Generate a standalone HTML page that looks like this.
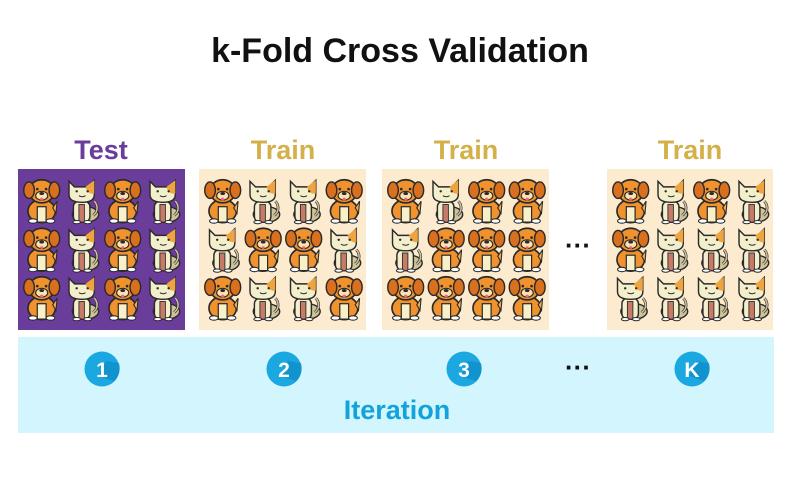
<!DOCTYPE html>
<html><head><meta charset="utf-8"><style>
body{margin:0;background:#fff;width:800px;height:490px;overflow:hidden;font-family:"Liberation Sans",Arial,sans-serif}
</style></head><body>
<svg width="800" height="490" viewBox="0 0 800 490" xmlns="http://www.w3.org/2000/svg">
<defs>
<g id="dog">
 <ellipse cx="17" cy="31" rx="12.5" ry="10.5" fill="#f0922e" stroke="#2a2a2a" stroke-width="1.5"/>
 <path d="M27 28 L31 22 L30 33 Z" fill="#f6b04a" stroke="#2a2a2a" stroke-width="1"/>
 <rect x="13" y="27" width="8" height="14" fill="#f7f0c8" stroke="#2a2a2a" stroke-width="1.1"/>
 <ellipse cx="17" cy="13" rx="11.5" ry="10.5" fill="#f0922e" stroke="#2a2a2a" stroke-width="1.5"/>
 <ellipse cx="5.5" cy="12" rx="4.8" ry="7.5" fill="#d9701e" stroke="#2a2a2a" stroke-width="1.3"/>
 <ellipse cx="28.5" cy="12" rx="4.8" ry="7.5" fill="#d9701e" stroke="#2a2a2a" stroke-width="1.3"/>
 <ellipse cx="17" cy="17" rx="5.5" ry="4" fill="#fde2b0" stroke="#2a2a2a" stroke-width="1"/>
 <ellipse cx="17" cy="15" rx="2.2" ry="1.4" fill="#2a2a2a"/>
 <circle cx="13" cy="11" r="1.2" fill="#2a2a2a"/><circle cx="21" cy="11" r="1.2" fill="#2a2a2a"/>
 <ellipse cx="17" cy="20" rx="1.5" ry="1.3" fill="#e66a8a"/>
 <ellipse cx="9" cy="40" rx="4" ry="2" fill="#fff" stroke="#2a2a2a" stroke-width="1"/>
 <ellipse cx="25" cy="40" rx="4" ry="2" fill="#fff" stroke="#2a2a2a" stroke-width="1"/>
</g>
<g id="cat">
 <ellipse cx="20" cy="34" rx="12" ry="7" fill="#cfc39a" stroke="#2a2a2a" stroke-width="1.3"/>
 <path d="M27 35 C33 30 30 24 28 22" fill="none" stroke="#2a2a2a" stroke-width="2.5"/>
 <path d="M27 35 C33 30 30 24 28 22" fill="none" stroke="#cfc39a" stroke-width="1.4"/>
 <rect x="9" y="22" width="15" height="19" rx="5" fill="#f3efcc" stroke="#2a2a2a" stroke-width="1.3"/>
 <rect x="14" y="25" width="5" height="16" fill="#c87a68" stroke="#2a2a2a" stroke-width="0.8"/>
 <path d="M5 4 L10 9 L22 9 L28 3 L28 16 Q28 23 17 23 Q5 23 5 16 Z" fill="#f3efcc" stroke="#2a2a2a" stroke-width="1.3"/>
 <path d="M20 9 L28 3 L28 15 Q24 16 21 12 Z" fill="#f0a440"/>
 <circle cx="12" cy="13" r="1.1" fill="#2a2a2a"/><circle cx="22" cy="13" r="1.1" fill="#2a2a2a"/>
 <path d="M14 17 Q17 19 20 17" fill="none" stroke="#2a2a2a" stroke-width="0.9"/>
 <ellipse cx="12" cy="41" rx="3.5" ry="1.5" fill="#fff" stroke="#2a2a2a" stroke-width="0.9"/>
 <ellipse cx="22" cy="41" rx="3.5" ry="1.5" fill="#fff" stroke="#2a2a2a" stroke-width="0.9"/>
</g>
</defs>
<text x="400" y="62" text-anchor="middle" font-size="34" font-weight="bold" fill="#111">k-Fold Cross Validation</text>

<g>
<text x="101" y="159" text-anchor="middle" font-size="27" font-weight="bold" fill="#6a3d9a">Test</text>
<rect x="18" y="169" width="167" height="161" fill="#6a3d9a"/>
</g>
<g>
<text x="283" y="159" text-anchor="middle" font-size="27" font-weight="bold" fill="#d4b04a">Train</text>
<rect x="199" y="169" width="167" height="161" fill="#fdebd0"/>
</g>
<g>
<text x="466" y="159" text-anchor="middle" font-size="27" font-weight="bold" fill="#d4b04a">Train</text>
<rect x="382" y="169" width="167" height="161" fill="#fdebd0"/>
</g>
<g>
<text x="690" y="159" text-anchor="middle" font-size="27" font-weight="bold" fill="#d4b04a">Train</text>
<rect x="607" y="169" width="166" height="161" fill="#fdebd0"/>
</g>
<g id="icons"></g>
<text x="578" y="254" text-anchor="middle" font-size="26" font-weight="bold" fill="#111">···</text>

<rect x="18" y="337" width="756" height="96" fill="#d3f5fd"/>
<g id="badges"></g>
<text x="578" y="376" text-anchor="middle" font-size="26" font-weight="bold" fill="#111">···</text>
<text x="397" y="419" text-anchor="middle" font-size="27" font-weight="bold" fill="#12a3dc">Iteration</text>
</svg>
<script>
const panelX = [18, 199, 382, 607];
const layouts = [
 ["DCDC","DCDC","DCDC"],
 ["DCCD","CDDC","DCCD"],
 ["DCDD","CDDD","DDDD"],
 ["DCDC","DCCC","CCCC"]
];
const badgeLabels = ["1","2","3","K"];
const badgeX = [102, 284, 464, 692];
const NS = "http://www.w3.org/2000/svg";
const ig = document.getElementById('icons');
layouts.forEach((rows, p) => {
  rows.forEach((row, r) => {
    [...row].forEach((t, c) => {
      const u = document.createElementNS(NS, 'use');
      u.setAttribute('href', t === 'D' ? '#dog' : '#cat');
      u.setAttribute('transform', 'translate(' + (panelX[p] + 5 + c * 40.5) + ',' + (177 + r * 48.5) + ') scale(1.1)');
      
      
      ig.appendChild(u);
    });
  });
});
const bg = document.getElementById('badges');
badgeLabels.forEach((l, i) => {
  const g = document.createElementNS(NS, 'g');
  
  
  g.innerHTML = '<circle cx="' + badgeX[i] + '" cy="369" r="17.5" fill="#1ba7e0"/>' +
    '<path d="M' + (badgeX[i] - 3) + ' 376 L' + (badgeX[i] + 12) + ' 381 A17.5 17.5 0 0 0 ' + (badgeX[i] + 17) + ' 363 L' + (badgeX[i] + 4) + ' 361 Z" fill="#0e86c2" opacity="0.6"/>' +
    '<text x="' + badgeX[i] + '" y="377" text-anchor="middle" font-size="21" font-weight="bold" fill="#fff" font-family="Liberation Sans, sans-serif">' + l + '</text>';
  bg.appendChild(g);
});
</script>
</body></html>
